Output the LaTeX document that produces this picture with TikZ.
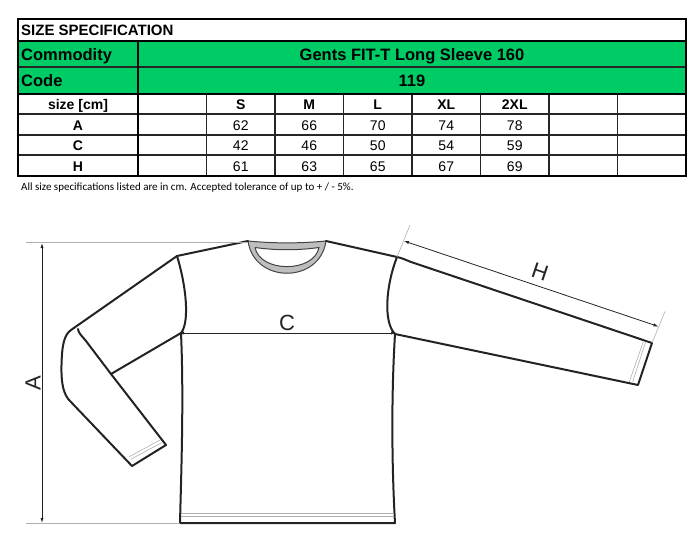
\documentclass[tikz,border=0pt]{standalone}
\usepackage{fontspec}
\setmainfont{Liberation Sans}
\newfontfamily\notefont{Carlito}
\usetikzlibrary{arrows.meta}
\definecolor{specgreen}{RGB}{0,204,102}
\definecolor{inkline}{RGB}{35,35,35}
\definecolor{guidegray}{RGB}{175,175,175}
\definecolor{collargray}{RGB}{190,190,190}
\tikzset{
  shirtline/.style={draw=inkline, line width=2pt, line join=round, line cap=round},
  stitchline/.style={draw=guidegray, line width=0.6pt},
  guideline/.style={draw=guidegray, line width=0.6pt},
  dimline/.style={draw=inkline, line width=0.8pt, {Latex[length=5pt,width=3.2pt]}-{Latex[length=5pt,width=3.2pt]}},
  gridthick/.style={draw=black, line width=2.5pt},
  gridthin/.style={draw=black!85, line width=1.3pt},
  headtext/.style={font=\bfseries\fontsize{16.5}{16.5}\selectfont, inner sep=0pt, anchor=base},
  celltext/.style={font=\fontsize{14}{14}\selectfont, inner sep=0pt, anchor=base},
  cellbold/.style={font=\bfseries\fontsize{14}{14}\selectfont, inner sep=0pt, anchor=base},
  dimtext/.style={font=\fontsize{22}{22}\selectfont, inner sep=0pt, text=inkline}
}
\begin{document}
\begin{tikzpicture}[x=1pt,y=-1pt]
  \useasboundingbox (0,0) rectangle (700,545);

  % Drawing table background and grid
  \fill[specgreen] (18,41) rectangle (686,94);
  \draw[gridthin] (18,67) -- (686,67);
  \foreach \y in {114,135,155} \draw[gridthin] (18,\y) -- (686,\y);
  \foreach \x in {206.5,275,343.5,412,480.5,549,617.5} \draw[gridthin] (\x,94) -- (\x,176);
  \draw[gridthick] (18,41) -- (686,41);
  \draw[gridthick] (18,94) -- (686,94);
  \draw[gridthick] (138,41) -- (138,176);
  \draw[gridthick] (18,19) rectangle (686,176);

  % Marking table heads
  \node[headtext, anchor=base west, font=\bfseries\fontsize{15}{15}\selectfont] (spectitle) at (21,35.5) {SIZE SPECIFICATION};
  \node[headtext, anchor=base west] (commodity) at (21,61) {Commodity};
  \node[headtext, anchor=base west] (code) at (21,87) {Code};
  \node[headtext] (article) at (412,61) {Gents FIT-T Long Sleeve 160};
  \node[headtext] (codeno) at (412,87) {119};

  % Marking sizes and values
  \node[cellbold] (sizehead) at (78,110) {size [cm]};
  \node[cellbold] (rowA) at (78,130.5) {A};
  \node[cellbold] (rowC) at (78,151) {C};
  \node[cellbold] (rowH) at (78,171.5) {H};
  \foreach \s/\a/\c/\h [count=\i] in {S/62/42/61, M/66/46/63, L/70/50/65, XL/74/54/67, 2XL/78/59/69} {
    \node[cellbold] (size-\s) at ({172.25+68.5*\i},110) {\s};
    \node[celltext] (A-\s) at ({172.25+68.5*\i},130.5) {\a};
    \node[celltext] (C-\s) at ({172.25+68.5*\i},151) {\c};
    \node[celltext] (H-\s) at ({172.25+68.5*\i},171.5) {\h};
  }

  % Marking tolerance note
  \node[anchor=base west, inner sep=0pt, font=\notefont\fontsize{11}{11}\selectfont] (tolerance) at (21,190.5) {All size specifications listed are in cm. Accepted tolerance of up to + / - 5\%.};

  % Shirt points
  \coordinate (neckL) at (248,241);
  \coordinate (neckR) at (326,241);
  \coordinate (shoulderL) at (177,256);
  \coordinate (shoulderR) at (397,257);
  \coordinate (armpitL) at (181,333);
  \coordinate (armpitR) at (395,334);
  \coordinate (hemL) at (180,523);
  \coordinate (hemR) at (395,523);
  \coordinate (cuffLa) at (132,466);
  \coordinate (cuffLb) at (166,445);
  \coordinate (elbowL) at (111,374);
  \coordinate (cuffRa) at (652,343);
  \coordinate (cuffRb) at (638,385);

  % Drawing collar
  \fill[collargray, even odd rule] (neckL) .. controls (254,284) and (320,284) .. (neckR) .. controls (300,243.5) and (274,243.5) .. (neckL)
    (255,247.5) .. controls (276,250.5) and (298,250.5) .. (319,247.5) .. controls (314,273) and (260,273) .. (255,247.5);
  \draw[inkline!85, line width=1pt] (neckL) .. controls (254,284) and (320,284) .. (neckR) .. controls (300,243.5) and (274,243.5) .. (neckL);
  \draw[inkline!85, line width=1pt] (255,247.5) .. controls (276,250.5) and (298,250.5) .. (319,247.5) .. controls (314,273) and (260,273) .. (255,247.5);

  % Drawing body
  \draw[shirtline] (neckL) -- (shoulderL) .. controls (186,285) and (190,322) .. (armpitL) .. controls (184,400) and (181,480) .. (hemL)
    -- (hemR) .. controls (392,470) and (391,400) .. (armpitR) .. controls (383,322) and (386,285) .. (shoulderR) -- (neckR);
  \draw[stitchline] (181,513.5) -- (394,513.5);
  \draw[stitchline] (181,516) -- (394,516);

  % Drawing left sleeve
  \draw[shirtline] (shoulderL) -- (71,330) .. controls (64,335) and (62,345) .. (61.5,365) .. controls (61,385) and (64,395) .. (70,401)
    -- (cuffLa) -- (cuffLb) -- (elbowL);
  \draw[shirtline] (elbowL) -- (86,341) .. controls (81,335) and (78.5,333) .. (78,329);
  \draw[shirtline] (armpitL) -- (elbowL);
  \draw[stitchline] (129.3,456.7) -- (160,440);
  \draw[stitchline] (130.7,459.3) -- (161.7,442.7);

  % Drawing right sleeve
  \draw[shirtline] (shoulderR) .. controls (402,258) and (406,260) .. (411,262) -- (cuffRa) -- (cuffRb) -- (armpitR);
  \draw[stitchline] (643.3,341.7) -- (629.3,381.7);
  \draw[stitchline] (645.7,341.7) -- (632.7,381.7);

  % Drawing dimension A
  \coordinate (Atop) at (42,243);
  \coordinate (Abot) at (42,523);
  \draw[guideline] (26,242.5) -- (247,242.5);
  \draw[guideline] (26,523) -- (hemL);
  \draw[dimline] (Atop) -- (Abot);
  \node[dimtext, rotate=90] (labelA) at (33,383) {A};

  % Drawing dimension C
  \coordinate (Cleft) at (179,333);
  \coordinate (Cright) at (396,333);
  \draw[dimline] (Cleft) -- (Cright);
  \node[dimtext] (labelC) at (287,323) {C};

  % Drawing dimension H
  \coordinate (Hstart) at (404,241);
  \coordinate (Hend) at (658.5,326.5);
  \draw[guideline] (410,225) -- (shoulderR);
  \draw[guideline] (665,311.5) -- (cuffRa);
  \draw[dimline] (Hstart) -- (Hend);
  \node[dimtext, rotate=-18.7] (labelH) at (540,272) {H};
\end{tikzpicture}
\end{document}
